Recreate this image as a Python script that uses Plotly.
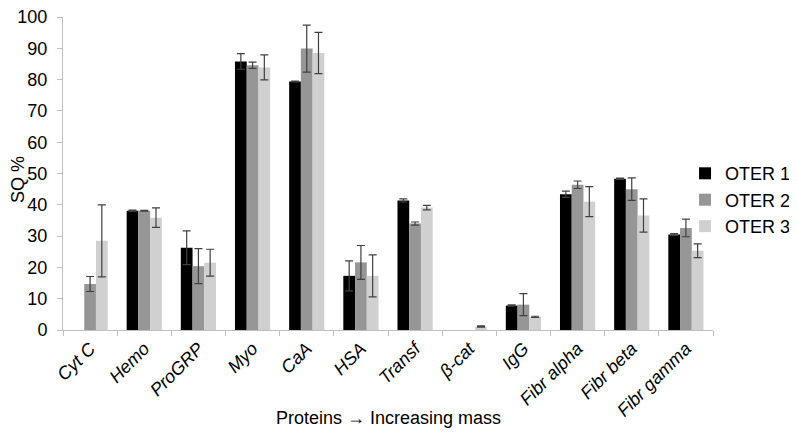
import plotly.graph_objects as go

categories = ["Cyt C", "Hemo", "ProGRP", "Myo", "CaA", "HSA", "Transf", "β-cat", "IgG",
              "Fibr alpha", "Fibr beta", "Fibr gamma"]

oter1 = [None, 38.1, 26.3, 85.8, 79.4, 17.3, 41.4, None, 7.8, 43.4, 48.3, 30.5]
oter1_err = [0, 0.2, 5.4, 2.5, 0.1, 4.8, 0.5, 0, 0.2, 1.0, 0.2, 0.3]

oter2 = [14.7, 38.1, 20.4, 84.6, 89.9, 21.6, 34.0, None, 8.1, 46.4, 45.0, 32.6]
oter2_err = [2.4, 0.1, 5.6, 1.0, 7.5, 5.4, 0.5, 0, 3.5, 1.2, 3.6, 2.8]

oter3 = [28.5, 35.9, 21.5, 83.9, 88.5, 17.3, 39.1, 1.1, 4.2, 41.0, 36.6, 25.3]
oter3_err = [11.5, 3.1, 4.3, 4.0, 6.6, 6.7, 0.7, 0.2, 0.2, 4.8, 5.3, 2.2]

series_names = ["OTER 1", "OTER 2", "OTER 3"]
colors = ["#000000", "#969696", "#d0d0d0"]

x_title = "Proteins → Increasing mass"
y_title = "SQ %"

fig = go.Figure()
for name, vals, errs, col in zip(series_names, [oter1, oter2, oter3],
                                 [oter1_err, oter2_err, oter3_err], colors):
    fig.add_trace(go.Bar(
        x=categories, y=vals, name=name, legendgroup=name,
        marker=dict(color=col, line=dict(width=0)),
        error_y=dict(type="data", array=errs, visible=True,
                     color="#404040", thickness=1.2, width=4),
    ))

font_family = "Liberation Sans, Arial, sans-serif"

fig.update_layout(
    width=789, height=427,
    margin=dict(l=55, r=84, t=9, b=105, autoexpand=False),
    paper_bgcolor="white", plot_bgcolor="white",
    barmode="group", bargap=0.35, bargroupgap=0,
    font=dict(family=font_family, size=18, color="#000000"),
    showlegend=True,
    legend=dict(x=0.957, y=0.415, xanchor="left", yanchor="middle",
                font=dict(size=18), itemwidth=30, tracegroupgap=0,
                bgcolor="rgba(0,0,0,0)"),
    xaxis=dict(
        tickangle=-45,
        tickfont=dict(size=18, style="italic"),
        showline=True, linecolor="#bfbfbf", linewidth=1,
        ticks="outside", ticklen=5, tickcolor="#bfbfbf",
        tickson="boundaries", showgrid=False,
        automargin=False, ticklabeloverflow="allow",
    ),
    yaxis=dict(
        range=[0, 100], dtick=10,
        showline=True, linecolor="#bfbfbf", linewidth=1,
        ticks="outside", ticklen=5, tickcolor="#bfbfbf",
        showgrid=False, zeroline=False,
        tickfont=dict(size=18),
        ticklabelstandoff=6,
        automargin=False, ticklabeloverflow="allow",
    ),
    annotations=[
        dict(text=x_title, xref="paper", yref="paper", x=0.5, y=-0.281,
             xanchor="center", yanchor="middle", showarrow=False,
             font=dict(size=18)),
        dict(text=y_title, xref="paper", yref="paper", x=-0.0692, y=0.479,
             xanchor="center", yanchor="middle", showarrow=False, textangle=-90,
             font=dict(size=18)),
    ],
)

fig.write_html("out.html")
